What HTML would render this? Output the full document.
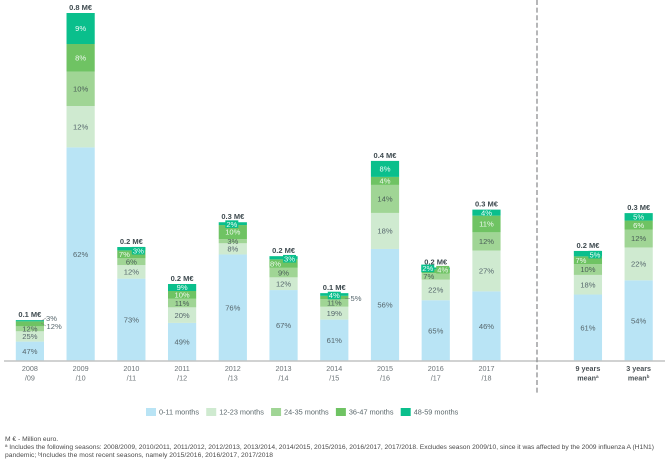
<!DOCTYPE html>
<html><head><meta charset="utf-8"><title>Cost by age group per season</title>
<style>
html,body{margin:0;padding:0;background:#fff;width:669px;height:463px;overflow:hidden}
svg{display:block;font-family:"Liberation Sans",sans-serif;filter:blur(0.25px)}
</style></head>
<body>
<svg id="chart" width="669" height="463" viewBox="0 0 669 463" xmlns="http://www.w3.org/2000/svg">
<g id="bars"></g>
<line x1="4" x2="665" y1="361" y2="361" stroke="#c2c4c4" stroke-width="1.6"/>
<line x1="537" x2="537" y1="0" y2="393" stroke="#8e9092" stroke-width="1.3" stroke-dasharray="5 2.6"/>
<g id="callouts" font-size="7.6" fill="#56666c">
<line x1="41" y1="321" x2="46" y2="318" stroke="#777" stroke-width=".5"/>
<line x1="41" y1="323" x2="46" y2="326" stroke="#777" stroke-width=".5"/>
<line x1="345" y1="298.5" x2="350" y2="298.5" stroke="#777" stroke-width=".5"/>
<text x="46" y="320.8">3%</text>
<text x="46.5" y="329">12%</text>
<text x="350.5" y="301.2">5%</text>
</g>
<g id="legend" font-size="7.3" fill="#5a676b"></g>
<g font-size="6.7" fill="#4a4a4a">
<text x="5" y="441.2">M € - Million euro.</text>
<text x="5" y="449" textLength="649" lengthAdjust="spacing">ª Includes the following seasons: 2008/2009, 2010/2011, 2011/2012, 2012/2013, 2013/2014, 2014/2015, 2015/2016, 2016/2017, 2017/2018. Excludes season 2009/10, since it was affected by the 2009 influenza A (H1N1)</text>
<text x="5" y="457" textLength="268" lengthAdjust="spacing">pandemic; ᵇIncludes the most recent seasons,  namely 2015/2016, 2016/2017, 2017/2018</text>
</g>
</svg>
<script>
const categories = ["2008/09","2009/10","2010/11","2011/12","2012/13","2013/14","2014/15","2015/16","2016/17","2017/18","9 years/mean","3 years/mean"];
const superscripts = ["","","","","","","","","","","a","b"];
const seriesNames = ["0-11 months","12-23 months","24-35 months","36-47 months","48-59 months"];
const totals = [0.094,0.80,0.262,0.177,0.319,0.241,0.156,0.46,0.215,0.348,0.253,0.34];
const totalLabels = ["0.1 M€","0.8 M€","0.2 M€","0.2 M€","0.3 M€","0.2 M€","0.1 M€","0.4 M€","0.2 M€","0.3 M€","0.2 M€","0.3 M€"];
const months0to11 = [47,62,73,49,76,67,61,56,65,46,61,54];
const months12to23 = [25,12,12,20,8,12,19,18,22,27,18,22];
const months24to35 = [12,10,6,11,3,9,11,14,7,12,10,12];
const months36to47 = [12,8,7,10,10,8,5,4,4,11,7,6];
const months48to59 = [3,9,3,9,2,3,4,8,2,4,5,5];
const series = [months0to11,months12to23,months24to35,months36to47,months48to59];

const colors = ["#b9e4f5","#cfead0","#a0d595","#6fc363","#0abf8c"];
const textColors = ["#56666c","#56666c","#4a5e58","#eef8ee","#eefaf6"];
/* hand-placed labels, as in the original: "bar:segment" */
const labelHidden = {"0:3":1,"0:4":1,"6:3":1};
const labelPlacement = {
  "2:3":{dx:-7},"2:4":{dx:7,dy:2,box:1},
  "4:4":{dx:-1,dy:0.5,box:1},
  "5:3":{dx:-8},"5:4":{dx:6,dy:1,box:1},
  "6:4":{dx:0,dy:1,box:1},
  "8:2":{dx:-7},"8:3":{dx:7,dy:-1.5,box:1},"8:4":{dx:-8,dy:0,box:1},
  "10:3":{dx:-7},"10:4":{dx:7,dy:1,box:1}
};
const svgNS = "http://www.w3.org/2000/svg";
const BASE = 361, PX_PER_MEUR = 435, BAR_W = 28.2, LEFT = 15.8, STEP = 50.73;
function xScale(i){ return LEFT + STEP * (i < 10 ? i : i + 1); }
function yScale(v){ return BASE - v * PX_PER_MEUR; }
function make(tag, attrs, parent, txt){
  const el = document.createElementNS(svgNS, tag);
  for (const k in attrs) el.setAttribute(k, attrs[k]);
  if (txt !== undefined) el.textContent = txt;
  parent.appendChild(el);
  return el;
}
const barsG = document.getElementById("bars");
const overlay = [];
categories.forEach(function(cat, i){
  const x = xScale(i), cx = x + BAR_W / 2;
  const sum = series.reduce(function(a, s){ return a + s[i]; }, 0);
  let cum = 0;
  series.forEach(function(s, k){
    const yBottom = yScale(totals[i] * cum / sum);
    cum += s[i];
    const yTop = yScale(totals[i] * cum / sum);
    const r = make("rect", {x:x, y:yTop, width:BAR_W, height:yBottom - yTop, fill:colors[k]}, barsG);
    
    
    const key = i + ":" + k;
    if (!labelHidden[key]) overlay.push({i:i, k:k, cx:cx, cy:(yTop + yBottom) / 2, v:s[i], p:labelPlacement[key] || {}});
  });
  const t = make("text", {x:cx, y:yScale(totals[i]) - 3, "text-anchor":"middle", "font-size":7.5, "font-weight":"bold", fill:"#3f4b50"}, barsG, totalLabels[i]);
  
  
  const parts = cat.split("/");
  const bold = i >= 10;
  const l1 = make("text", {x:cx, y:371, "text-anchor":"middle", "font-size":7.2, "font-weight":bold ? "bold" : "normal", fill:bold ? "#4a5256" : "#6c7478"}, barsG, parts[0]);
  
  
  const l2 = make("text", {x:cx, y:380.3, "text-anchor":"middle", "font-size":7.2, "font-weight":bold ? "bold" : "normal", fill:bold ? "#4a5256" : "#6c7478"}, barsG, (bold ? "" : "/") + parts[1]);
  
  
  if (superscripts[i]) {
    const sup = make("tspan", {"font-size":4.6, dy:-2.5}, l2, superscripts[i]);
    
    
  }
});
overlay.forEach(function(o){
  const lx = o.cx + (o.p.dx || 0), ly = o.cy + (o.p.dy || 0);
  if (o.p.box) {
    const b = make("rect", {x:lx - 6.5, y:ly - 3.8, width:13, height:7.6, fill:colors[o.k]}, barsG);
    
    
  }
  const t = make("text", {x:lx, y:ly + 2.7, "text-anchor":"middle", "font-size":7.6, fill:textColors[o.k]}, barsG, o.v + "%");
  
  
});
const legendG = document.getElementById("legend");
let legendX = 146;
seriesNames.forEach(function(name, k){
  const sw = make("rect", {x:legendX, y:408, width:10, height:8, fill:colors[k]}, legendG);
  
  
  const tx = make("text", {x:legendX + 13, y:414.6}, legendG, name);
  
  
  legendX += tx.getComputedTextLength() + 20.2;
});
</script>
</body></html>
